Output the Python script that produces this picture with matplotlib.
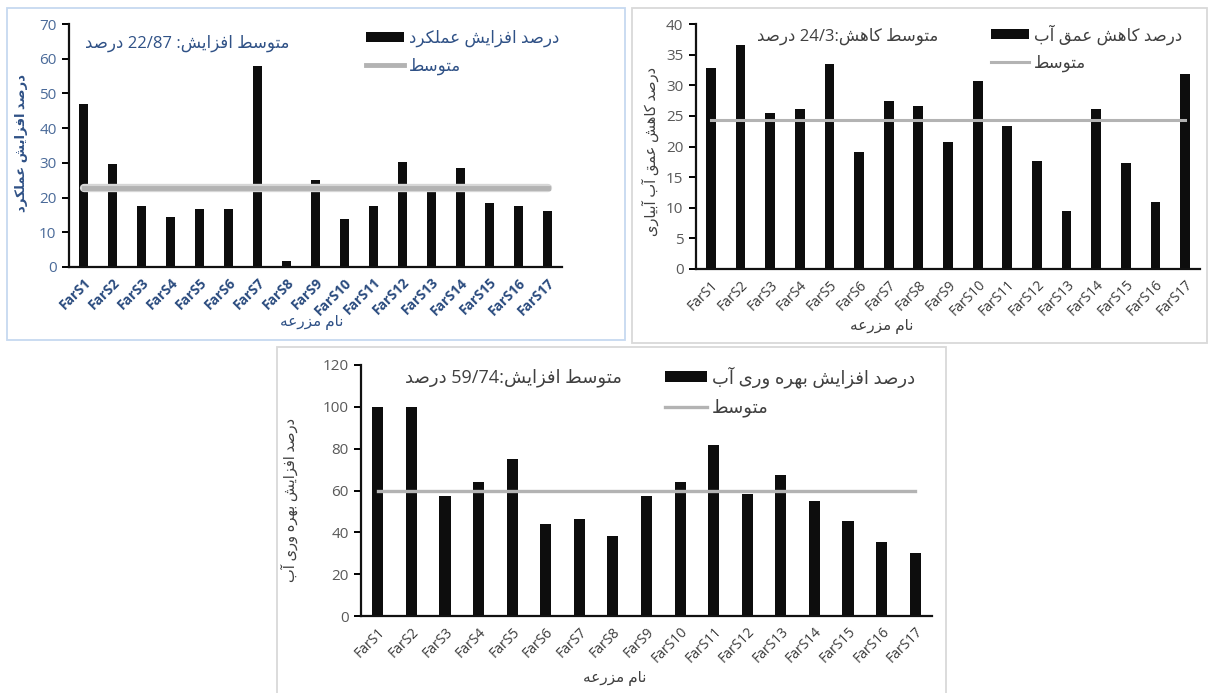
import re
import matplotlib
matplotlib.use("Agg")
import matplotlib.pyplot as plt
from matplotlib.patches import Rectangle

plt.rcParams['font.family'] = ['Open Sans', 'DejaVu Sans']

farms = ['FarS1', 'FarS2', 'FarS3', 'FarS4', 'FarS5', 'FarS6', 'FarS7', 'FarS8', 'FarS9',
         'FarS10', 'FarS11', 'FarS12', 'FarS13', 'FarS14', 'FarS15', 'FarS16', 'FarS17']

# yield increase (%)
yield_gain = [47.0, 29.6, 17.7, 14.5, 16.6, 16.6, 57.9, 1.6, 25.1,
              13.9, 17.5, 30.2, 22.3, 28.4, 18.5, 17.6, 16.1]
yield_mean = 22.87

# reduction of irrigation depth (%)
depth_cut = [32.8, 36.6, 25.4, 26.1, 33.5, 19.1, 27.5, 26.6, 20.7,
             30.7, 23.3, 17.6, 9.4, 26.2, 17.3, 11.0, 31.8]
depth_mean = 24.3

# water productivity increase (%)
wp_gain = [100.0, 100.0, 57.5, 64.0, 75.0, 44.0, 46.2, 38.1, 57.4,
           64.1, 81.8, 58.1, 67.4, 55.0, 45.2, 35.3, 30.1]
wp_mean = 59.74

# contextual forms: (isolated, final[, initial, medial])
FORMS = {
    'ا': '\uFE8D\uFE8E', 'آ': '\uFE81\uFE82', 'د': '\uFEA9\uFEAA',
    'ر': '\uFEAD\uFEAE', 'ز': '\uFEAF\uFEB0', 'و': '\uFEED\uFEEE',
    'ب': '\uFE8F\uFE90\uFE91\uFE92', 'ت': '\uFE95\uFE96\uFE97\uFE98',
    'س': '\uFEB1\uFEB2\uFEB3\uFEB4', 'ش': '\uFEB5\uFEB6\uFEB7\uFEB8',
    'ص': '\uFEB9\uFEBA\uFEBB\uFEBC', 'ط': '\uFEC1\uFEC2\uFEC3\uFEC4',
    'ع': '\uFEC9\uFECA\uFECB\uFECC', 'ف': '\uFED1\uFED2\uFED3\uFED4',
    'ق': '\uFED5\uFED6\uFED7\uFED8', 'ل': '\uFEDD\uFEDE\uFEDF\uFEE0',
    'م': '\uFEE1\uFEE2\uFEE3\uFEE4', 'ن': '\uFEE5\uFEE6\uFEE7\uFEE8',
    'ه': '\uFEE9\uFEEA\uFEEB\uFEEC', 'ک': '\uFB8E\uFB8F\uFB90\uFB91',
    'ی': '\uFBFC\uFBFD\uFBFE\uFBFF',
}


def fa(text):
    """Join Persian letters and put the string in visual (left-to-right) order."""
    out = []
    for i, ch in enumerate(text):
        forms = FORMS.get(ch)
        if forms is None:
            out.append(ch)
            continue
        prev = text[i - 1] if i > 0 else ''
        nxt = text[i + 1] if i + 1 < len(text) else ''
        joins_prev = len(FORMS.get(prev, '')) == 4
        joins_next = len(forms) == 4 and nxt in FORMS
        out.append(forms[[0, 2, 1, 3][joins_prev * 2 + joins_next]])
    runs = re.findall(r'[0-9/]+|[^0-9/]+', ''.join(out))
    return ''.join(r if r[0].isdigit() else r[::-1] for r in reversed(runs))


W, H = 1208, 693
fig = plt.figure(figsize=(W / 100, H / 100), dpi=100)


def fx(x):
    return x / W


def fy(y):
    return 1 - y / H


def draw_panel(frame, box, values, mean, ymax, step, series, title, title_xy, title_size,
               legend_xy, legend_size, ylabel, ylabel_xy, ylabel_size, xlabel_xy, frame_color,
               text_color, tick_color, xtick_color, xtick_weight, mean_lw):
    x0, y0, x1, y1 = frame
    fig.patches.append(Rectangle((fx(x0), fy(y1)), (x1 - x0) / W, (y1 - y0) / H,
                                 transform=fig.transFigure, fill=False,
                                 ec=frame_color, lw=1.3))
    l, t, r, b = box
    ax = fig.add_axes([fx(l), fy(b), (r - l) / W, (b - t) / H])
    xs = list(range(len(farms)))
    bars = ax.bar(xs, values, width=0.33, color='#0d0d0d', label=fa(series), zorder=2)
    if mean_lw > 3:
        # soft halo around the thick average line
        ax.plot(xs, [mean] * len(xs), color='#d6d6d6', lw=mean_lw + 2.5,
                solid_capstyle='round', zorder=2.5)
    line, = ax.plot(xs, [mean] * len(xs), color='#b3b3b3', lw=mean_lw,
                    label=fa('متوسط'), zorder=3)
    ax.set_xlim(-0.5, len(farms) - 0.5)
    ax.set_ylim(0, ymax)
    ax.set_yticks(range(0, ymax + 1, step))
    ax.set_xticks(xs, farms, rotation=45, ha='right', rotation_mode='anchor',
                  color=xtick_color, fontweight=xtick_weight, fontsize=10)
    for s in ('top', 'right'):
        ax.spines[s].set_visible(False)
    for s in ('left', 'bottom'):
        ax.spines[s].set_linewidth(1.6)
        ax.spines[s].set_color('#111111')
    ax.tick_params(axis='y', length=5, width=1.4, pad=4, labelsize=11, labelcolor=tick_color)
    ax.tick_params(axis='x', length=0, pad=6)

    leg = ax.legend(handles=[bars, line], loc='upper left',
                    bbox_to_anchor=(fx(legend_xy[0]), fy(legend_xy[1])),
                    bbox_transform=fig.transFigure, frameon=False, fontsize=legend_size,
                    handlelength=2.3, handleheight=0.55, handletextpad=0.3,
                    labelspacing=0.6, borderpad=0, borderaxespad=0)
    for txt in leg.get_texts():
        txt.set_color(text_color)

    fig.text(fx(title_xy[0]), fy(title_xy[1]), fa(title), ha='center', va='center',
             fontsize=title_size, color=text_color)
    fig.text(fx(ylabel_xy[0]), fy(ylabel_xy[1]), fa(ylabel), ha='center', va='center',
             rotation=90, fontsize=ylabel_size, color=text_color,
             fontweight='bold' if xtick_weight == 'bold' else 'normal')
    fig.text(fx(xlabel_xy[0]), fy(xlabel_xy[1]), fa('نام مزرعه'), ha='center', va='center',
             fontsize=11, color=text_color)
    return ax


draw_panel(frame=(7, 8, 625, 340), box=(69, 24, 562, 267),
           values=yield_gain, mean=yield_mean, ymax=70, step=10,
           series='درصد افزایش عملکرد',
           title='متوسط افزایش: 22/87 درصد', title_xy=(187, 43), title_size=12,
           legend_xy=(366, 30), legend_size=12,
           ylabel='درصد افزایش عملکرد', ylabel_xy=(22, 143), ylabel_size=9.5,
           xlabel_xy=(312, 322),
           frame_color='#c6d9f0', text_color='#2f5186', tick_color='#4a6a99',
           xtick_color='#2a4b7e', xtick_weight='bold', mean_lw=3.5)

draw_panel(frame=(632, 8, 1207, 343), box=(696, 24, 1200, 269),
           values=depth_cut, mean=depth_mean, ymax=40, step=5,
           series='درصد کاهش عمق آب',
           title='متوسط کاهش:24/3 درصد', title_xy=(848, 36), title_size=12,
           legend_xy=(991, 24), legend_size=12,
           ylabel='درصد کاهش عمق آب آبیاری', ylabel_xy=(651, 152), ylabel_size=10.5,
           xlabel_xy=(882, 326),
           frame_color='#d9d9d9', text_color='#404040', tick_color='#595959',
           xtick_color='#3a3a3a', xtick_weight='normal', mean_lw=2.2)

draw_panel(frame=(277, 347, 946, 700), box=(361, 365, 932, 616),
           values=wp_gain, mean=wp_mean, ymax=120, step=20,
           series='درصد افزایش بهره وری آب',
           title='متوسط افزایش:59/74 درصد', title_xy=(513, 378), title_size=13,
           legend_xy=(665, 366), legend_size=13,
           ylabel='درصد افزایش بهره وری آب', ylabel_xy=(290, 500), ylabel_size=10.5,
           xlabel_xy=(615, 678),
           frame_color='#d9d9d9', text_color='#404040', tick_color='#595959',
           xtick_color='#3a3a3a', xtick_weight='normal', mean_lw=2.4)

fig.savefig('out.png', dpi=100)
